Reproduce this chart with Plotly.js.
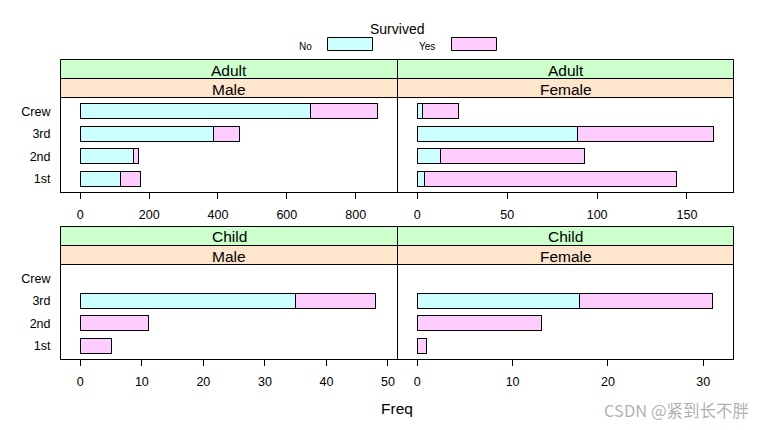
<!DOCTYPE html>
<html>
<head>
<meta charset="utf-8">
<script src="https://cdn.plot.ly/plotly-3.0.1.min.js"></script>
<style>html,body{margin:0;padding:0;background:#fff;}#chart{width:765px;height:430px;}</style>
</head>
<body>
<div id="chart"></div>
<script>
// ---- data (Titanic) ----
const classes = ['1st', '2nd', '3rd', 'Crew'];
const seriesNames = ['No', 'Yes'];
const adultMaleNo = [118, 154, 387, 670];
const adultMaleYes = [57, 14, 75, 192];
const adultFemaleNo = [4, 13, 89, 3];
const adultFemaleYes = [140, 80, 76, 20];
const childMaleNo = [0, 0, 35, 0];
const childMaleYes = [5, 11, 13, 0];
const childFemaleNo = [0, 0, 17, 0];
const childFemaleYes = [1, 13, 14, 0];
const ageLabels = ['Adult', 'Adult', 'Child', 'Child'];
const sexLabels = ['Male', 'Female', 'Male', 'Female'];
const legendTitle = 'Survived';
const xTitle = 'Freq';

// ---- layout helpers ----
const W = 765, H = 430;
const px = p => p / W;
const py = p => 1 - p / H;
const FONT = 'Arial, "Liberation Sans", sans-serif';
const colNo = '#CCFFFF', colYes = '#FFCCFF';

// plot-area domains in pixels (axis lines sit half a pixel outside)
const colX = [[61, 397], [398, 733]];
const rowY = [[98, 192], [265, 359]];
const stripTop = [59.5, 226.5];

const panels = [
  {no: adultMaleNo, yes: adultMaleYes, col: 0, row: 0, range: [-56.1, 920.1], dtick: 200},
  {no: adultFemaleNo, yes: adultFemaleYes, col: 1, row: 0, range: [-10.76, 175.6], dtick: 50},
  {no: childMaleNo, yes: childMaleYes, col: 0, row: 1, range: [-3.14, 51.47], dtick: 10},
  {no: childFemaleNo, yes: childFemaleYes, col: 1, row: 1, range: [-2.02, 33.12], dtick: 10}
];

const data = [];
const layout = {
  width: W, height: H,
  margin: {l: 0, r: 0, t: 0, b: 0},
  paper_bgcolor: '#fff', plot_bgcolor: '#fff',
  barmode: 'stack',
  showlegend: false,
  font: {family: FONT, color: '#000'},
  shapes: [], annotations: []
};

panels.forEach((p, i) => {
  const n = i + 1;
  const xa = n === 1 ? 'x' : 'x' + n;
  const ya = n === 1 ? 'y' : 'y' + n;
  [[p.no, colNo, seriesNames[0]], [p.yes, colYes, seriesNames[1]]].forEach(([vals, c, nm]) => {
    data.push({
      type: 'bar', orientation: 'h', name: nm,
      // zero counts are not drawn (lattice draws nothing for them)
      x: vals.map(v => (v === 0 ? null : v)), y: classes, xaxis: xa, yaxis: ya,
      width: 2 / 3,
      marker: {color: c, line: {color: '#000', width: 1}},
      hoverinfo: 'skip'
    });
  });
  const cx = colX[p.col], ry = rowY[p.row];
  layout['xaxis' + (n === 1 ? '' : n)] = {
    domain: [px(cx[0]), px(cx[1])], anchor: ya,
    range: p.range, dtick: p.dtick, tick0: 0,
    showgrid: false, zeroline: false,
    showline: true, mirror: true, linecolor: '#000', linewidth: 1,
    ticks: 'outside', ticklen: 6, tickwidth: 1, tickcolor: '#000',
    tickfont: {family: FONT, size: 12.5, color: '#000'},
    ticklabelstandoff: 5,
    fixedrange: true
  };
  layout['yaxis' + (n === 1 ? '' : n)] = {
    domain: [py(ry[1]), py(ry[0])], anchor: xa,
    type: 'category', categoryorder: 'array', categoryarray: classes,
    range: [-0.6, 3.6],
    showgrid: false, zeroline: false,
    showline: true, mirror: true, linecolor: '#000', linewidth: 1,
    ticks: '', showticklabels: p.col === 0,
    tickfont: {family: FONT, size: 12.5, color: '#000'},
    ticklabelstandoff: 7,
    fixedrange: true
  };
  // strips
  const st = stripTop[p.row];
  const sh = 19;
  const sx0 = cx[0] - 0.5, sx1 = cx[1] + 0.5;
  [[ageLabels[i], '#CCFFCC', st], [sexLabels[i], '#FFE5CC', st + sh]].forEach(([txt, fill, top]) => {
    layout.shapes.push({
      type: 'rect', xref: 'paper', yref: 'paper',
      x0: px(sx0), x1: px(sx1), y0: py(top + sh), y1: py(top),
      fillcolor: fill, line: {color: '#000', width: 1}, layer: 'above'
    });
    layout.annotations.push({
      xref: 'paper', yref: 'paper', x: px((sx0 + sx1) / 2), y: py(top + sh / 2 + 1),
      text: txt, showarrow: false, xanchor: 'center', yanchor: 'middle',
      font: {family: FONT, size: 15.5, color: '#000'}
    });
  });
});

// legend (lattice style key)
layout.annotations.push({
  xref: 'paper', yref: 'paper', x: px(397), y: py(29.5), text: legendTitle,
  showarrow: false, xanchor: 'center', yanchor: 'middle',
  font: {family: FONT, size: 14, color: '#000'}
});
const keyItems = [
  {name: seriesNames[0], color: colNo, tx: 297.3, bx0: 327.5, bx1: 372.5},
  {name: seriesNames[1], color: colYes, tx: 417.3, bx0: 451.5, bx1: 496.5}
];
keyItems.forEach(k => {
  layout.annotations.push({
    xref: 'paper', yref: 'paper', x: px(k.tx), y: py(46.5), text: k.name,
    showarrow: false, xanchor: 'left', yanchor: 'middle',
    font: {family: FONT, size: 10, color: '#000'}
  });
  layout.shapes.push({
    type: 'rect', xref: 'paper', yref: 'paper',
    x0: px(k.bx0), x1: px(k.bx1), y0: py(50.5), y1: py(37.5),
    fillcolor: k.color, line: {color: '#000', width: 1}
  });
});

// x title
layout.annotations.push({
  xref: 'paper', yref: 'paper', x: px(397), y: py(408), text: xTitle,
  showarrow: false, xanchor: 'center', yanchor: 'middle',
  font: {family: FONT, size: 15.5, color: '#000'}
});
// watermark
layout.annotations.push({
  xref: 'paper', yref: 'paper', x: px(751), y: py(410), text: 'CSDN @紧到长不胖',
  showarrow: false, xanchor: 'right', yanchor: 'middle',
  font: {family: '"Noto Sans CJK SC", "Liberation Sans", sans-serif', size: 16.5, color: 'rgba(150,150,150,0.75)'}
});

Plotly.newPlot('chart', data, layout, {staticPlot: true, displayModeBar: false});
</script>
</body>
</html>
